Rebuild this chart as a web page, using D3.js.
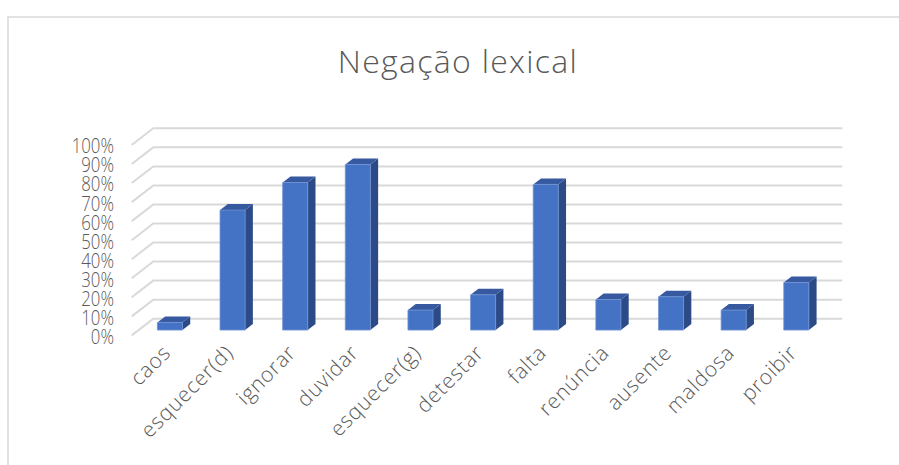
<!DOCTYPE html>
<html>
<head>
<meta charset="utf-8">
<script src="https://cdn.jsdelivr.net/npm/d3@7"></script>
<style>
  html, body { margin: 0; padding: 0; background: #fff; }
  svg { display: block; }
</style>
</head>
<body>
<svg id="chart" width="899" height="465"></svg>
<script>
// Chart data
const title = "Negação lexical";
const categories = ["caos", "esquecer(d)", "ignorar", "duvidar", "esquecer(g)", "detestar",
                    "falta", "renúncia", "ausente", "maldosa", "proibir"];
const values = [0.04, 0.63, 0.775, 0.87, 0.105, 0.185, 0.765, 0.16, 0.175, 0.105, 0.25];
const tickValues = [0, 0.1, 0.2, 0.3, 0.4, 0.5, 0.6, 0.7, 0.8, 0.9, 1.0];

const W = 899, H = 465;
const svg = d3.select("#chart");
const textColor = "#595959";
const font = "'Open Sans', 'Noto Sans', sans-serif";

// Chart frame
svg.append("rect").attr("width", W).attr("height", H).attr("fill", "#fff");
svg.append("path")
  .attr("d", "M8,465 V17 H899")
  .attr("fill", "none").attr("stroke", "#d9d9d9").attr("stroke-width", 1.5);

// Title
svg.append("text")
  .attr("x", 458).attr("y", 73)
  .attr("text-anchor", "middle")
  .attr("font-family", font)
  .attr("font-weight", 300)
  .attr("font-size", 32)
  .attr("letter-spacing", 1.3)
  .attr("fill", textColor)
  .text(title);

// Oblique 3-D projection: front plane origin plus a depth offset
const originX = 131.7;
const depthDX = 21.6, depthDY = -16.7;
const plotW = 689;

const x = d3.scaleBand().domain(categories).range([0, plotW]);
const y = d3.scaleLinear().domain([0, 1]).range([335.4, 145]);

const P = (px, v, d) => [originX + px + d * depthDX, y(v) + d * depthDY];
const poly = pts => "M" + pts.map(p => p.join(",")).join("L") + "Z";

// Gridlines: floor diagonal + back wall
const grid = svg.append("g");
grid.selectAll("path").data(tickValues).join("path")
  .attr("d", t => {
    const a = P(0, t, 0), b = P(0, t, 1), c = P(plotW, t, 1);
    return `M${a}L${b}L${c}`;
  })
  .attr("fill", "none").attr("stroke", "#d9d9d9").attr("stroke-width", 2);

// Y axis labels
const yAxis = d3.axisLeft(y).tickValues(tickValues)
  .tickFormat(d3.format(".0%")).tickSize(0).tickPadding(0);
const yg = svg.append("g")
  .attr("transform", "translate(114,1.5) scale(0.84,1)")
  .call(yAxis);
yg.select(".domain").remove();
yg.selectAll("text")
  .attr("font-family", font)
  .attr("font-weight", 300)
  .attr("font-size", 20)
  .attr("fill", textColor);

// Bars as 3-D columns
const bw = x.bandwidth() * 0.4;
const d0 = 0.32, d1 = 0.68;
const bars = svg.append("g").selectAll("g")
  .data(categories.map((c, i) => ({ c, v: values[i] })))
  .join("g");

bars.append("path") // side
  .attr("d", d => {
    const x1 = x(d.c) + (x.bandwidth() + bw) / 2;
    return poly([P(x1, 0, d0), P(x1, 0, d1), P(x1, d.v, d1), P(x1, d.v, d0)]);
  })
  .attr("fill", "#2c4b86");

bars.append("path") // top
  .attr("d", d => {
    const x0 = x(d.c) + (x.bandwidth() - bw) / 2, x1 = x0 + bw;
    return poly([P(x0, d.v, d0), P(x1, d.v, d0), P(x1, d.v, d1), P(x0, d.v, d1)]);
  })
  .attr("fill", "#3759a0");

bars.append("path") // front
  .attr("d", d => {
    const x0 = x(d.c) + (x.bandwidth() - bw) / 2, x1 = x0 + bw;
    return poly([P(x0, 0, d0), P(x1, 0, d0), P(x1, d.v, d0), P(x0, d.v, d0)]);
  })
  .attr("fill", "#4472c4")
  .attr("stroke", "#6f93d4").attr("stroke-width", 0.8);

// Category labels, rotated
svg.append("g").selectAll("text")
  .data(categories).join("text")
  .attr("transform", c => {
    const px = P(x(c) + x.bandwidth() / 2, 0, d0)[0] + 2;
    return `translate(${px},354) rotate(-45)`;
  })
  .attr("text-anchor", "end")
  .attr("font-family", font)
  .attr("font-weight", 300)
  .attr("font-size", 21)
  .attr("letter-spacing", 0.8)
  .attr("fill", textColor)
  .text(c => c);
</script>
</body>
</html>
